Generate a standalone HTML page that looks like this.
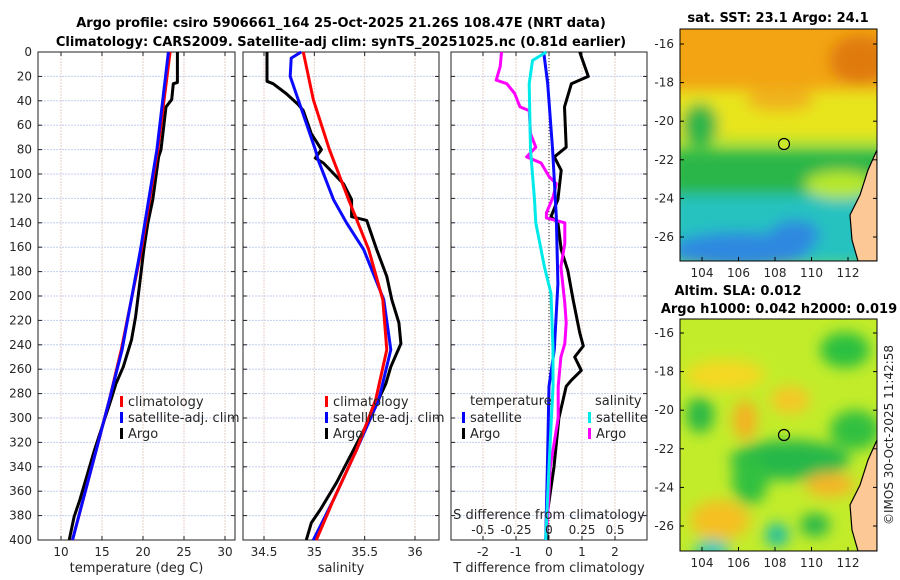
<!DOCTYPE html>
<html><head><meta charset="utf-8"><style>
body{margin:0;background:#fff;}
svg{display:block;font-family:"DejaVu Sans","Liberation Sans",sans-serif;}
.tk{font-size:12px;fill:#262626;}
.ttl{font-size:13px;font-weight:bold;fill:#000;}
</style></head><body>
<svg id="c" width="900" height="580">
<defs>
<filter id="bl" x="-50%" y="-50%" width="200%" height="200%"><feGaussianBlur stdDeviation="7"/></filter>
<clipPath id="m1c"><rect x="680" y="29" width="197" height="232"/></clipPath>
<clipPath id="m2c"><rect x="680" y="319" width="197" height="232"/></clipPath>
</defs>
<text class="ttl" x="341" y="27" text-anchor="middle">Argo profile: csiro 5906661_164 25-Oct-2025 21.26S 108.47E (NRT data)</text>
<text class="ttl" x="341" y="46" text-anchor="middle">Climatology: CARS2009. Satellite-adj clim: synTS_20251025.nc (0.81d earlier)</text>

<g clip-path="url(#m1c)">
<rect x="680" y="29" width="197" height="232" fill="#9be33a"/>
<rect x="680" y="29" width="197" height="75" fill="#f2a413"/>
<g filter="url(#bl)">
<rect x="670" y="90" width="220" height="50" fill="#e8e51a"/>
<rect x="670" y="150" width="220" height="50" fill="#2bb64a"/>
<rect x="670" y="195" width="220" height="70" fill="#25c2c0"/>
<ellipse cx="740" cy="250" rx="70" ry="18" fill="#2e88e0"/>
<ellipse cx="795" cy="235" rx="25" ry="15" fill="#2e88e0"/>
<ellipse cx="700" cy="125" rx="18" ry="22" fill="#2fb548"/>
<ellipse cx="840" cy="185" rx="35" ry="14" fill="#b8e82a"/>
<ellipse cx="860" cy="60" rx="30" ry="25" fill="#e07a10"/>
<ellipse cx="780" cy="100" rx="35" ry="12" fill="#efb41c"/>
</g>
<path d="M877,150 L868,170 L860,195 L850,215 L852,240 L858,261 L877,261 Z" fill="#fbc896" stroke="#000" stroke-width="1.2"/>
</g>
<rect x="680" y="29" width="197" height="232" fill="none" stroke="#000"/>
<circle cx="784" cy="144" r="5.5" fill="#c8e82a" stroke="#000" stroke-width="1.2"/>
<text class="ttl" x="778" y="22" text-anchor="middle">sat. SST: 23.1 Argo: 24.1</text>

<g clip-path="url(#m2c)">
<rect x="680" y="319" width="197" height="232" fill="#c2ec2a"/>
<g filter="url(#bl)">
<ellipse cx="790" cy="460" rx="60" ry="20" fill="#28b848"/>
<ellipse cx="750" cy="480" rx="18" ry="25" fill="#30c040"/>
<ellipse cx="700" cy="415" rx="14" ry="18" fill="#2cb844"/>
<ellipse cx="845" cy="350" rx="25" ry="18" fill="#2cc040"/>
<ellipse cx="855" cy="430" rx="25" ry="20" fill="#30c040"/>
<ellipse cx="725" cy="375" rx="40" ry="15" fill="#f5d820"/>
<ellipse cx="745" cy="420" rx="12" ry="20" fill="#f5b020"/>
<ellipse cx="790" cy="400" rx="20" ry="14" fill="#f5c828"/>
<ellipse cx="830" cy="485" rx="25" ry="12" fill="#f5b628"/>
<ellipse cx="720" cy="520" rx="30" ry="20" fill="#f5c020"/>
<ellipse cx="777" cy="535" rx="12" ry="12" fill="#22c0a0"/>
<ellipse cx="712" cy="550" rx="18" ry="10" fill="#22c8c0"/>
<ellipse cx="815" cy="525" rx="15" ry="12" fill="#2cb848"/>
</g>
<path d="M877,440 L868,460 L860,485 L850,505 L852,530 L858,551 L877,551 Z" fill="#fbc896" stroke="#000" stroke-width="1.2"/>
</g>
<rect x="680" y="319" width="197" height="232" fill="none" stroke="#000"/>
<circle cx="784" cy="435" r="5.5" fill="none" stroke="#000" stroke-width="1.2"/>
<text class="ttl" x="738" y="295" text-anchor="middle">Altim. SLA: 0.012</text>
<text class="ttl" x="779" y="313" text-anchor="middle">Argo h1000: 0.042 h2000: 0.019</text>
<text class="tk" transform="translate(893,435) rotate(-90)" text-anchor="middle">©IMOS 30-Oct-2025 11:42:58</text>
<g id="g"></g>
</svg>
<script>
// temperature profiles (depth dbar, deg C)
const tClimD=[0,80,162,244,285,326,367,400];
const tClim=[23.3,21.8,19.8,17.35,15.9,14.3,12.7,11.4];
const tSatD=[0,80,162,244,285,326,367,400];
const tSat=[23.1,21.7,19.7,17.45,15.9,14.3,12.7,11.4];
const tArgoD=[0,25,26,39,45,80,86,121,140,162,190,217,236,258,272,285,326,367,381,400];
const tArgo=[24.2,24.2,23.7,23.5,22.8,22.2,21.9,21.2,20.6,20.1,19.6,19.1,18.6,17.6,16.7,16.1,14.1,12.3,11.6,11.0];
// salinity profiles
const sClimD=[0,39,80,121,162,203,244,285,326,367,400];
const sClim=[34.89,34.99,35.15,35.34,35.54,35.68,35.72,35.61,35.42,35.19,35.02];
const sSatD=[0,5,20,39,80,89,121,140,162,203,244,285,326,367,400];
const sSat=[34.87,34.77,34.76,34.84,35.01,35.04,35.19,35.32,35.49,35.69,35.76,35.64,35.42,35.19,34.99];
const sArgoD=[0,24,26,34,43,48,67,80,87,91,108,121,135,138,162,184,203,222,239,258,272,299,326,353,375,386,400];
const sArgo=[34.53,34.53,34.59,34.72,34.84,34.89,34.97,35.07,35.01,35.09,35.29,35.37,35.37,35.52,35.62,35.72,35.77,35.84,35.86,35.76,35.71,35.56,35.39,35.22,35.06,34.97,34.92];
// differences from climatology (T in deg C, S in psu)
const dTargoD=[0,20,26,45,78,86,97,121,135,140,162,179,203,230,241,250,261,269,274,300,340,380,400];
const dTargo=[0.93,1.19,0.68,0.47,0.52,0.16,0.37,0.27,0.06,0.27,0.37,0.57,0.73,0.93,1.04,0.78,0.98,0.68,0.52,0.3,0.15,-0.06,-0.06];
const dTsatD=[0,26,80,135,190,244,274,340,400];
const dTsat=[-0.16,-0.04,0.11,0.22,0.27,0.16,0.0,-0.05,-0.1];
const dSsatD=[0,7,26,80,121,140,176,198,244,274,340,400];
const dSsat=[-0.02,-0.125,-0.15,-0.14,-0.11,-0.1,-0.035,0.015,0.03,0.03,0,-0.025];
const dSargoD=[0,12,23,26,34,45,48,67,78,86,91,102,108,119,132,136,140,157,176,206,222,239,250,274,300,340,380,400];
const dSargo=[-0.36,-0.37,-0.4,-0.32,-0.26,-0.22,-0.15,-0.14,-0.1,-0.17,-0.06,0.0,0.055,0.03,-0.02,-0.02,0.12,0.12,0.09,0.12,0.13,0.12,0.09,0.07,0.07,0.01,-0.01,-0.025];
const yTicks=[0,20,40,60,80,100,120,140,160,180,200,220,240,260,280,300,320,340,360,380,400];
const tTicks=[10,15,20,25,30], sTicks=[34.5,35,35.5,36], dTticks=[-2,-1,0,1,2], dSticks=[-0.5,-0.25,0,0.25,0.5];
const dSlabels=["-0.5","-0.25","0","0.25","0.5"];
const latTicks=[-16,-18,-20,-22,-24,-26], lonTicks=[104,106,108,110,112];

const NS="http://www.w3.org/2000/svg", G=document.getElementById('g');
function el(t,a,p){const e=document.createElementNS(NS,t);for(const k in a)e.setAttribute(k,a[k]);(p||G).appendChild(e);return e;}
const Y0=52,Y1=540,y=d=>Y0+(d/400)*(Y1-Y0);
function lin(d0,d1,r0,r1){return v=>r0+(v-d0)/(d1-d0)*(r1-r0);}
function panel(name,x0,x1,x,ticks,labels,xlabel,showY){
  const g=el('g',{});
  
  
  yTicks.forEach(d=>{const l=el('line',{x1:x0,x2:x1,y1:y(d),y2:y(d),stroke:'#c4cdf0','stroke-dasharray':'2,1','stroke-width':1},g);
    
    el('line',{x1:x0,x2:x0+4,y1:y(d),y2:y(d),stroke:'#222'},g);el('line',{x1:x1-4,x2:x1,y1:y(d),y2:y(d),stroke:'#222'},g);
    if(showY){const t=el('text',{x:x0-6,y:y(d)+4,'text-anchor':'end','class':'tk'},g);t.textContent=d;
      }});
  ticks.forEach((v,i)=>{const l=el('line',{x1:x(v),x2:x(v),y1:Y0,y2:Y1,stroke:'#e6cfc4','stroke-dasharray':'2,1'},g);
    
    el('line',{x1:x(v),x2:x(v),y1:Y1-4,y2:Y1,stroke:'#222'},g);el('line',{x1:x(v),x2:x(v),y1:Y0,y2:Y0+4,stroke:'#222'},g);
    if(labels){const t=el('text',{x:x(v),y:Y1+16,'text-anchor':'middle','class':'tk'},g);t.textContent=labels[i];
      }});
  const r=el('rect',{x:x0,y:Y0,width:x1-x0,height:Y1-Y0,fill:'none',stroke:'#222'},g);
  
  const t=el('text',{x:(x0+x1)/2,y:572,'text-anchor':'middle','class':'tk',style:'font-size:13px'},g);t.textContent=xlabel;
  
  return g;}
function line(g,name,x,dep,vals,col){const p=el('polyline',{points:vals.map((v,i)=>x(v).toFixed(1)+','+y(dep[i]).toFixed(1)).join(' '),fill:'none',stroke:col,'stroke-width':3,'stroke-linejoin':'round'},g);
  }
function legend(g,x0,y0,items){items.forEach((it,i)=>{const r=el('rect',{x:x0,y:y0+i*16-10,width:3,height:11,fill:it[1]},g);
  
  const t=el('text',{x:x0+8,y:y0+i*16,'class':'tk',style:'font-size:13px'},g);t.textContent=it[0];
  });}

const xT=lin(10,30,61,225);
const g1=panel('temperature-panel',38,235,xT,tTicks,tTicks.map(String),'temperature (deg C)',true);
line(g1,'temp-argo',xT,tArgoD,tArgo,'#000');line(g1,'temp-climatology',xT,tClimD,tClim,'#ff0000');line(g1,'temp-satellite',xT,tSatD,tSat,'#0a0aff');
legend(g1,120,406,[['climatology','#f00'],['satellite-adj. clim','#00f'],['Argo','#000']]);

const xS=lin(34.5,36,264,415);
const g2=panel('salinity-panel',243,439,xS,sTicks,['34.5','35','35.5','36'],'salinity',false);
line(g2,'sal-argo',xS,sArgoD,sArgo,'#000');line(g2,'sal-satellite',xS,sSatD,sSat,'#0a0aff');line(g2,'sal-climatology',xS,sClimD,sClim,'#ff0000');
legend(g2,325,406,[['climatology','#f00'],['satellite-adj. clim','#00f'],['Argo','#000']]);

const xD=lin(-2,2,483,615), xDS=lin(-0.5,0.5,483,615);
const g3=panel('difference-panel',451,647,xD,dTticks,['-2','-1','0','1','2'],'T difference from climatology',false);
const z=el('line',{x1:xD(0),x2:xD(0),y1:Y0,y2:Y1,stroke:'#333','stroke-dasharray':'1,2'},g3);

line(g3,'dT-argo',xD,dTargoD,dTargo,'#000');line(g3,'dS-argo',xDS,dSargoD,dSargo,'#ff00ff');line(g3,'dT-satellite',xD,dTsatD,dTsat,'#0a0aff');line(g3,'dS-satellite',xDS,dSsatD,dSsat,'#00eaea');
[['temperature',470],['salinity',595]].forEach(a=>{const t=el('text',{x:a[1],y:405,'class':'tk',style:'font-size:13px'},g3);t.textContent=a[0];
  });
legend(g3,462,422,[['satellite','#00f'],['Argo','#000']]);
legend(g3,588,422,[['satellite','#00eaea'],['Argo','#f0f']]);
let st=el('text',{x:549,y:519,'text-anchor':'middle','class':'tk',style:'font-size:13px'},g3);st.textContent='S difference from climatology';

dSticks.forEach((v,i)=>{const t=el('text',{x:xDS(v),y:534,'text-anchor':'middle','class':'tk'},g3);t.textContent=dSlabels[i];
  });

function mapAxes(name,top,bot,ylat0){const g=el('g',{});
  
  const ly=lin(-16,-26,ylat0,ylat0+193),lx=lin(104,112,702,848);
  latTicks.forEach(v=>{el('line',{x1:680,x2:684,y1:ly(v),y2:ly(v),stroke:'#000'},g);el('line',{x1:873,x2:877,y1:ly(v),y2:ly(v),stroke:'#000'},g);
    const t=el('text',{x:674,y:ly(v)+4,'text-anchor':'end','class':'tk'},g);t.textContent=v;
    });
  lonTicks.forEach(v=>{el('line',{x1:lx(v),x2:lx(v),y1:bot-4,y2:bot,stroke:'#000'},g);
    const t=el('text',{x:lx(v),y:bot+16,'text-anchor':'middle','class':'tk'},g);t.textContent=v;
    });}
mapAxes('sst-map-axes',29,261,44);
mapAxes('sla-map-axes',319,551,333);
</script>
</body></html>
